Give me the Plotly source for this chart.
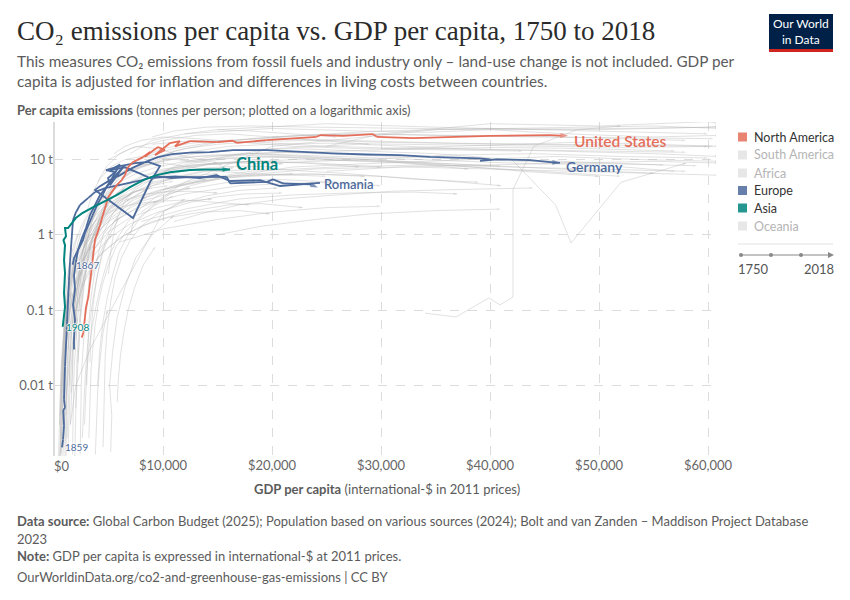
import plotly.graph_objects as go
import math

# ---------------- data (GDP per capita in int-$, CO2 per capita in t) ----------------
us_gdp = [2540, 2690, 2840, 2940, 3150, 3300, 3370, 3550, 3610, 3760, 4220, 4380, 4680, 4980, 5290, 5750,
          6210, 6510, 6730, 7130, 7590, 8170, 8810, 8350, 9540, 10180, 9270, 10640, 11560, 11100, 12480,
          14010, 14930, 16420, 16760, 19510, 24100, 24400, 26510, 29270, 29610, 32940, 36030, 40000, 45500, 47160]
us_co2 = [0.043, 0.050, 0.081, 0.110, 0.149, 0.229, 0.311, 0.463, 0.628, 0.853, 1.35, 1.67, 2.27, 3.18, 3.70, 4.58,
          5.34, 6.22, 7.71, 8.99, 9.85, 10.8, 12.6, 11.0, 14.7, 13.4, 11.5, 16.6, 17.6, 15.0, 17.6,
          17.1, 17.1, 17.8, 16.7, 18.2, 20.1, 21.1, 20.7, 21.8, 20.1, 19.3, 20.1, 20.7, 21.1, 20.7]

china_gdp = [800, 1010, 920, 1010, 920, 1010, 870, 1100, 1010, 1290, 2000, 2600, 3600, 4520, 5750, 6970,
             8190, 9420, 10640, 12480, 14010, 16150]
china_co2 = [0.060, 0.110, 0.169, 0.311, 0.46, 0.73, 0.85, 0.96, 1.23, 1.23, 1.67, 1.95, 2.34, 2.73, 3.38, 4.3,
             5.34, 6.22, 6.8, 7.25, 7.4, 7.37]

germany_gdp = [1716, 1835, 2110, 2385, 2660, 2845, 3120, 3486, 3945, 4404, 4862, 5413, 5871, 6422, 5871, 5137,
               4954, 5596, 4770, 6055, 7431, 8624, 9725, 8807, 7247, 3761, 4220, 5137, 6055, 7156, 8348, 9541,
               10825, 12477, 14312, 16422, 19541, 22568, 25595, 28714, 31742, 34494, 39081, 39998, 39081,
               40641, 43668, 45778, 46420]
germany_co2 = [0.40, 0.49, 0.59, 0.71, 0.85, 1.06, 1.31, 1.78, 2.49, 3.27, 4.44, 5.7, 6.8, 8.2, 6.4, 4.58,
               5.7, 6.8, 7.25, 8.2, 9.0, 9.3, 8.2, 5.0, 1.67, 3.94, 4.44, 5.34, 6.22, 7.71, 9.26, 10.8,
               11.8, 12.4, 12.6, 13.4, 13.4, 12.7, 12.1, 11.7, 11.5, 10.9, 10.4, 10.06, 9.64,
               10.06, 9.85, 9.18, 9.07]

romania_gdp = [734, 826, 917, 853, 1009, 917, 1009, 1101, 1165, 1220, 1284, 1376, 1468, 1560, 1651, 1743,
               2018, 2385, 3119, 3761, 4679, 5871, 6972, 8073, 9266, 10642, 12477, 14312, 15843, 16146,
               19541, 20092, 21009, 23486, 24220]
romania_co2 = [0.0015, 0.0019, 0.0029, 0.0047, 0.0050, 0.0064, 0.0178, 0.040, 0.067, 0.11, 0.16, 0.25, 0.44,
               0.73, 1.09, 1.57, 2.0, 2.49, 3.08, 3.70, 4.18, 4.58, 4.88, 5.34, 6.03, 5.7, 5.86, 5.86, 5.91,
               4.83, 5.07, 5.46, 4.83, 4.68, 4.25]

europe3_gdp = [1835, 1835, 1927, 1743, 1927, 1835, 2018, 2202, 2569, 2936, 3303, 3761, 4220, 4954, 5596,
               6055, 5137, 6514, 7800, 8807, 11101, 13394, 14927, 16146, 18898, 20733, 24400]
europe3_co2 = [0.030, 0.040, 0.075, 0.118, 0.186, 0.29, 0.44, 0.63, 0.91, 1.23, 1.83, 2.49, 3.38, 4.6, 6.5,
               8.6, 7.2, 7.9, 6.6, 5.7, 6.0, 5.7, 6.2, 5.2, 5.34, 4.46, 4.9]

# other countries (grey background)
oth01_gdp = [700, 750, 820, 900, 1000, 1150, 1300, 1500, 1800, 2200, 2700]
oth01_co2 = [0.0012, 0.003, 0.008, 0.02, 0.04, 0.07, 0.12, 0.2, 0.35, 0.6, 0.9]
oth02_gdp = [900, 950, 1000, 1100, 1250, 1400, 1700, 2100, 2600, 3200, 4000, 5200, 6500]
oth02_co2 = [0.0015, 0.004, 0.01, 0.025, 0.05, 0.09, 0.15, 0.3, 0.6, 1.0, 1.8, 3.0, 4.2]
oth03_gdp = [1200, 1300, 1350, 1500, 1700, 2000, 2400, 3000, 3800, 4800, 6000, 7500, 9000, 11000]
oth03_co2 = [0.002, 0.005, 0.012, 0.03, 0.07, 0.15, 0.3, 0.6, 1.1, 1.8, 2.8, 3.8, 4.5, 5.2]
oth04_gdp = [500, 600, 650, 700, 800, 950, 1100, 1300, 1600, 2000, 2500, 3000]
oth04_co2 = [0.001, 0.002, 0.005, 0.012, 0.03, 0.06, 0.1, 0.17, 0.25, 0.4, 0.6, 0.8]
oth05_gdp = [1500, 1600, 1700, 1800, 2000, 2300, 2700, 3300, 4200, 5500, 7000, 9000, 12000, 15000]
oth05_co2 = [0.003, 0.006, 0.015, 0.04, 0.1, 0.2, 0.4, 0.8, 1.5, 2.5, 3.5, 4.8, 6.0, 6.5]
oth06_gdp = [2000, 2100, 2200, 2400, 2700, 3100, 3600, 4300, 5200, 6500, 8000, 10000, 13000, 17000, 21000]
oth06_co2 = [0.005, 0.01, 0.03, 0.08, 0.2, 0.5, 1.0, 1.8, 3.0, 4.5, 6.0, 7.5, 8.5, 9.0, 8.8]
oth07_gdp = [3000, 3100, 3200, 3400, 3700, 4100, 4600, 5300, 6200, 7500, 9000, 11000, 14000, 18000, 23000, 28000]
oth07_co2 = [0.01, 0.03, 0.07, 0.15, 0.3, 0.6, 1.1, 1.8, 2.8, 4.0, 5.5, 7.0, 8.5, 9.5, 9.0, 8.0]
oth08_gdp = [800, 850, 900, 1000, 1100, 1300, 1600, 2000, 2600, 3400, 4500, 6000, 8000, 10500]
oth08_co2 = [0.008, 0.015, 0.03, 0.06, 0.1, 0.18, 0.3, 0.5, 0.8, 1.3, 2.0, 3.0, 4.0, 4.5]
oth09_gdp = [1000, 1050, 1100, 1200, 1400, 1700, 2100, 2700, 3500, 4500, 5800, 7500, 9500]
oth09_co2 = [0.001, 0.003, 0.007, 0.02, 0.05, 0.1, 0.2, 0.4, 0.7, 1.1, 1.6, 2.2, 2.8]
oth10_gdp = [1800, 2000, 2300, 2600, 3000, 3500, 4200, 5000, 6000, 7500, 9500, 12000, 16000, 20000, 25000, 32000, 38000]
oth10_co2 = [0.05, 0.1, 0.2, 0.4, 0.8, 1.5, 2.5, 3.8, 5.0, 6.5, 8.0, 9.5, 10.5, 11.0, 10.0, 9.0, 7.5]
oth11_gdp = [2500, 2700, 3000, 3400, 3900, 4500, 5300, 6300, 7600, 9200, 11500, 14500, 18000, 23000, 29000, 36000, 43000, 50000]
oth11_co2 = [0.2, 0.4, 0.8, 1.4, 2.2, 3.2, 4.5, 6.0, 7.5, 9.0, 10.5, 11.5, 12.0, 11.0, 10.0, 8.5, 7.0, 6.0]
oth12_gdp = [3500, 3800, 4200, 4800, 5600, 6600, 8000, 10000, 13000, 17000, 22000, 28000, 35000, 42000, 50000, 56000]
oth12_co2 = [0.5, 1.0, 1.8, 3.0, 4.5, 6.0, 8.0, 10.0, 12.0, 13.5, 14.0, 13.0, 12.0, 10.0, 9.0, 8.5]
oth13_gdp = [4000, 4500, 5200, 6000, 7000, 8500, 10500, 13000, 16000, 20000, 25000, 31000, 38000, 45000, 53000, 60000]
oth13_co2 = [1.0, 2.0, 3.5, 5.0, 7.0, 9.0, 11.0, 13.0, 15.0, 16.0, 16.5, 16.0, 15.5, 15.0, 14.5, 15.0]
oth14_gdp = [5000, 6000, 7500, 9500, 12000, 15000, 19000, 24000, 30000, 36000, 42000, 48000]
oth14_co2 = [3.0, 5.0, 8.0, 11.0, 14.0, 16.0, 17.5, 18.0, 17.0, 16.5, 16.0, 15.5]
oth15_gdp = [6000, 8000, 11000, 15000, 20000, 27000, 35000, 44000, 52000, 58000]
oth15_co2 = [6.0, 9.0, 13.0, 17.0, 20.0, 22.0, 21.0, 20.5, 19.0, 18.0]
oth16_gdp = [25000, 30000, 40000, 50000, 60000, 61000]
oth16_co2 = [15, 22, 30, 28, 32, 30]
oth17_gdp = [8000, 12000, 20000, 35000, 55000, 61000]
oth17_co2 = [2, 5, 15, 25, 28, 26]
oth18_gdp = [34040, 36880, 39900, 40920, 42110, 42110, 44000, 48000, 52000]
oth18_co2 = [0.091, 0.081, 0.145, 0.117, 0.149, 4.0, 15, 25, 28]
oth19_gdp = [42000, 46020, 47430, 52020, 58000]
oth19_co2 = [10, 2.49, 0.78, 5.0, 9]
oth20_gdp = [1500, 2000, 3300, 8800, 10000, 12000]
oth20_co2 = [0.003, 0.01, 0.03, 0.93, 2, 3]
oth21_gdp = [2000, 3000, 4500, 6500, 9000, 12000, 16000, 19000, 22800]
oth21_co2 = [0.1, 0.3, 0.6, 1.0, 1.5, 2.0, 2.5, 2.6, 2.3]
oth22_gdp = [1500, 2500, 4000, 6000, 8000, 10500, 13500, 17000, 19800]
oth22_co2 = [0.05, 0.2, 0.5, 0.9, 1.3, 1.7, 2.0, 2.1, 1.9]
oth23_gdp = [10000, 15000, 22000, 30000, 38000, 45000, 52000]
oth23_co2 = [7, 9, 10, 9.5, 8, 7, 6]
oth24_gdp = [12000, 18000, 26000, 34000, 42000, 50000, 57000]
oth24_co2 = [9, 12, 11, 10, 9, 8.5, 7]
oth25_gdp = [14000, 20000, 28000, 37000, 46000, 55000, 61000]
oth25_co2 = [10, 14, 16, 14, 13, 12, 11]
oth26_gdp = [9000, 14000, 20000, 27000, 33000, 39000]
oth26_co2 = [5, 7, 7.5, 6.5, 5.5, 5]
oth27_gdp = [7000, 11000, 16000, 23000, 30000, 36000, 41000]
oth27_co2 = [3, 4.5, 6, 6.5, 6, 5.2, 4.5]
oth28_gdp = [5500, 8000, 12000, 17000, 24000, 30000]
oth28_co2 = [1.5, 2.5, 3.5, 4.5, 5.0, 4.5]
oth29_gdp = [3000, 5000, 8000, 12000, 16000, 20000, 26000]
oth29_co2 = [0.8, 1.5, 2.8, 4.0, 5.0, 5.5, 5.0]
oth30_gdp = [20000, 30000, 40000, 50000, 60000, 61000]
oth30_co2 = [20, 24, 26, 25, 27, 28]
oth31_gdp = [15000, 25000, 35000, 48000, 60000]
oth31_co2 = [25, 30, 27, 24, 22]
oth32_gdp = [600, 620, 650, 700, 760, 850, 950, 1100, 1300, 1550, 1850]
oth32_co2 = [0.001, 0.002, 0.004, 0.008, 0.015, 0.03, 0.05, 0.08, 0.13, 0.2, 0.3]
oth33_gdp = [1100, 1150, 1200, 1300, 1450, 1650, 1900, 2200, 2600, 3100, 3700, 4500, 5500, 7000]
oth33_co2 = [0.004, 0.008, 0.015, 0.03, 0.06, 0.1, 0.17, 0.28, 0.45, 0.7, 1.0, 1.5, 2.2, 3.0]
oth34_gdp = [1300, 1350, 1400, 1500, 1650, 1850, 2100, 2500, 3000, 3600, 4300, 5100, 6000]
oth34_co2 = [0.0015, 0.003, 0.006, 0.012, 0.025, 0.05, 0.1, 0.2, 0.35, 0.6, 0.9, 1.3, 1.7]
oth35_gdp = [2200, 2300, 2450, 2650, 2900, 3200, 3600, 4100, 4700, 5500, 6500, 7800, 9500, 12000, 15000, 19000, 24000, 30000]
oth35_co2 = [0.02, 0.04, 0.08, 0.15, 0.3, 0.55, 0.9, 1.4, 2.0, 2.8, 3.8, 5.0, 6.5, 8.0, 9.0, 9.5, 9.0, 8.0]
oth36_gdp = [2800, 2900, 3000, 3200, 3500, 3900, 4400, 5000, 5800, 6800, 8000, 9500, 11500, 14000]
oth36_co2 = [0.003, 0.007, 0.015, 0.03, 0.06, 0.12, 0.25, 0.5, 0.9, 1.5, 2.3, 3.3, 4.5, 5.5]
oth37_gdp = [4000, 4200, 4500, 4900, 5400, 6000, 6800, 7800, 9000, 10500, 12500, 15000, 18000, 22000]
oth37_co2 = [0.01, 0.03, 0.07, 0.15, 0.3, 0.6, 1.0, 1.6, 2.4, 3.4, 4.5, 5.5, 6.2, 6.5]
oth38_gdp = [400, 450, 500, 560, 620, 700, 800, 920, 1050, 1200]
oth38_co2 = [0.001, 0.002, 0.004, 0.007, 0.012, 0.02, 0.03, 0.05, 0.07, 0.1]
oth39_gdp = [1600, 1650, 1700, 1800, 1950, 2150, 2400, 2700, 3100, 3600, 4200, 5000]
oth39_co2 = [0.008, 0.015, 0.03, 0.06, 0.12, 0.22, 0.4, 0.65, 1.0, 1.4, 1.9, 2.5]
oth40_gdp = [700, 780, 880, 1000, 1150, 1350, 1600, 1900, 2300, 2800, 3500, 4300, 5300, 6500, 8000, 10000, 12500]
oth40_co2 = [0.002, 0.005, 0.01, 0.02, 0.04, 0.07, 0.12, 0.2, 0.32, 0.5, 0.8, 1.2, 1.7, 2.3, 3.0, 3.7, 4.2]
oth41_gdp = [900, 1000, 1200, 1500, 1900, 2400, 3000, 3700, 4500]
oth41_co2 = [0.02, 0.04, 0.08, 0.15, 0.3, 0.5, 0.8, 1.2, 1.6]
oth42_gdp = [1400, 1500, 1650, 1900, 2200, 2600, 3100, 3800, 4700, 5800, 7200]
oth42_co2 = [0.01, 0.03, 0.06, 0.12, 0.25, 0.45, 0.8, 1.3, 2.0, 2.8, 3.5]
oth43_gdp = [2600, 2700, 2850, 3050, 3300, 3600, 4000, 4500, 5100, 5900, 7000, 8500]
oth43_co2 = [0.002, 0.005, 0.012, 0.03, 0.07, 0.15, 0.3, 0.6, 1.0, 1.6, 2.4, 3.2]
oth44_gdp = [3300, 3400, 3600, 3900, 4300, 4800, 5500, 6400, 7500, 9000, 11000, 13500, 16500]
oth44_co2 = [0.02, 0.05, 0.12, 0.25, 0.5, 0.9, 1.5, 2.3, 3.3, 4.5, 5.8, 7.0, 7.8]
oth45_gdp = [1000, 1100, 1250, 1450, 1700, 2000, 2400, 2900, 3500, 4200, 5000]
oth45_co2 = [0.05, 0.1, 0.18, 0.3, 0.5, 0.8, 1.2, 1.7, 2.3, 2.9, 3.4]
oth46_gdp = [500, 550, 600, 680, 780, 900, 1050, 1250, 1500, 1800, 2200, 2700, 3300]
oth46_co2 = [0.003, 0.006, 0.012, 0.02, 0.035, 0.06, 0.1, 0.16, 0.25, 0.38, 0.55, 0.75, 1.0]
oth47_gdp = [1900, 1950, 2000, 2100, 2250, 2450, 2750, 3150, 3700, 4400, 5300, 6500, 8000, 10000, 12500, 15500, 19000]
oth47_co2 = [0.001, 0.003, 0.008, 0.02, 0.05, 0.12, 0.3, 0.6, 1.1, 1.9, 3.0, 4.3, 5.8, 7.2, 8.4, 9.2, 9.6]
oth48_gdp = [2300, 2400, 2600, 2900, 3300, 3800, 4500, 5400, 6600, 8200, 10200, 13000, 17000, 22000, 28000, 35000, 42000, 49000, 55000]
oth48_co2 = [0.1, 0.2, 0.45, 0.9, 1.6, 2.6, 3.8, 5.2, 6.8, 8.3, 9.8, 11.0, 11.5, 11.0, 10.2, 9.0, 8.0, 7.2, 6.6]
oth49_gdp = [4500, 5000, 5800, 6800, 8200, 10000, 12500, 15500, 19500, 24500, 30000, 37000, 45000, 54000, 60500]
oth49_co2 = [2, 3.5, 5.5, 8, 11, 14, 16.5, 18, 19, 18.5, 17.5, 16.5, 16, 15.5, 15]
oth50_gdp = [6500, 8500, 11000, 14000, 18000, 23000, 29000, 36000, 44000, 52000, 60500]
oth50_co2 = [8, 11, 14, 16.5, 19, 21, 22, 21, 20, 19.5, 19]
oth51_gdp = [5000, 7000, 10000, 13000, 16000, 20000, 24000, 29000]
oth51_co2 = [10, 14, 18, 21, 22, 20, 18, 16]
oth52_gdp = [7000, 9000, 12000, 15000, 18000, 22000, 26000]
oth52_co2 = [12, 18, 22, 25, 24, 22, 20]
oth53_gdp = [8000, 12000, 18000, 26000, 34000, 42000, 50000, 58000]
oth53_co2 = [3, 5, 7, 8, 8.5, 8, 7.5, 7]
oth54_gdp = [10000, 16000, 24000, 32000, 40000, 48000, 56000, 61000]
oth54_co2 = [4, 6, 7.5, 8, 7.5, 7, 6.5, 6.2]
oth55_gdp = [16000, 22000, 30000, 38000, 46000, 54000, 61000]
oth55_co2 = [6, 8, 9, 10, 11, 10, 9.5]
oth56_gdp = [18000, 26000, 34000, 42000, 50000, 58000]
oth56_co2 = [12, 13, 14, 13.5, 13, 12.5]
oth57_gdp = [3500, 5000, 7000, 9500, 12500, 15000, 17500, 21000]
oth57_co2 = [0.5, 0.9, 1.4, 2.0, 2.7, 3.2, 3.5, 3.6]
oth58_gdp = [4000, 5500, 7500, 10000, 13000, 16500, 20000, 24000, 28500]
oth58_co2 = [1.2, 2.0, 3.0, 4.0, 5.0, 5.8, 6.2, 6.4, 6.0]
oth59_gdp = [2500, 3500, 5000, 7000, 9500, 12000, 14500]
oth59_co2 = [0.3, 0.6, 1.1, 1.7, 2.3, 2.8, 3.0]
oth60_gdp = [1200, 1400, 1700, 2100, 2700, 3500, 4500, 5700, 7200, 9000]
oth60_co2 = [0.1, 0.2, 0.35, 0.6, 1.0, 1.6, 2.3, 3.0, 3.7, 4.2]
oth61_gdp = [600, 700, 850, 1050, 1300, 1600, 2000, 2500]
oth61_co2 = [0.004, 0.01, 0.02, 0.04, 0.08, 0.14, 0.22, 0.32]
oth62_gdp = [800, 900, 1050, 1250, 1500, 1800, 2200]
oth62_co2 = [0.001, 0.0025, 0.006, 0.012, 0.025, 0.045, 0.08]
oth63_gdp = [3800, 3900, 4000, 4200, 4500, 4900]
oth63_co2 = [0.0012, 0.003, 0.008, 0.02, 0.05, 0.1]
oth64_gdp = [5200, 5300, 5100, 5400, 5800, 6500, 7500, 9000, 11000]
oth64_co2 = [0.0013, 0.004, 0.01, 0.03, 0.08, 0.2, 0.5, 1.0, 1.8]
oth65_gdp = [12000, 20000, 28000, 34000, 40000, 47000, 55000, 61000]
oth65_co2 = [22, 26, 24, 23, 25, 22, 20, 21]
oth66_gdp = [9000, 13000, 19000, 25000, 33000, 41000, 49000, 57000]
oth66_co2 = [16, 18, 17, 15, 14, 14.5, 14, 13]
oth67_gdp = [6000, 10000, 15000, 20000, 25000, 30000]
oth67_co2 = [0.8, 1.2, 1.6, 2.0, 2.3, 2.4]
oth68_gdp = [8000, 12000, 17000, 22000, 27000, 33000, 37000]
oth68_co2 = [1.5, 2.2, 3.0, 3.4, 3.6, 3.7, 3.5]
oth69_gdp = [550, 580, 620, 680, 750, 850, 980, 1150, 1350, 1600]
oth69_co2 = [0.0011, 0.0025, 0.005, 0.01, 0.018, 0.03, 0.05, 0.08, 0.12, 0.17]
oth70_gdp = [650, 700, 760, 840, 950, 1100, 1300, 1550, 1850, 2250, 2750, 3400]
oth70_co2 = [0.0013, 0.003, 0.006, 0.012, 0.022, 0.04, 0.07, 0.12, 0.2, 0.32, 0.48, 0.7]
oth71_gdp = [1100, 1120, 1150, 1200, 1280, 1400, 1560, 1780, 2050, 2400, 2850, 3400, 4100]
oth71_co2 = [0.0011, 0.002, 0.004, 0.008, 0.016, 0.03, 0.055, 0.1, 0.18, 0.3, 0.5, 0.75, 1.05]
oth72_gdp = [1700, 1720, 1750, 1800, 1880, 2000, 2180, 2420, 2750, 3200, 3800, 4600, 5600, 6900, 8500]
oth72_co2 = [0.0012, 0.0025, 0.005, 0.01, 0.02, 0.04, 0.08, 0.15, 0.28, 0.5, 0.85, 1.4, 2.1, 3.0, 4.0]
oth73_gdp = [2400, 2420, 2450, 2500, 2580, 2700, 2880, 3120, 3450, 3900, 4500, 5300]
oth73_co2 = [0.0012, 0.0025, 0.005, 0.01, 0.02, 0.04, 0.08, 0.15, 0.27, 0.45, 0.7, 1.0]
oth74_gdp = [3200, 3250, 3300, 3400, 3550, 3750, 4050, 4450, 5000, 5700, 6600, 7800, 9300, 11000]
oth74_co2 = [0.002, 0.004, 0.008, 0.016, 0.03, 0.06, 0.12, 0.22, 0.4, 0.7, 1.1, 1.7, 2.5, 3.3]
oth75_gdp = [4500, 4550, 4600, 4700, 4900, 5200, 5600, 6200, 7000, 8000, 9500, 11500, 14000, 17000, 20500]
oth75_co2 = [0.0015, 0.004, 0.01, 0.025, 0.06, 0.13, 0.27, 0.5, 0.85, 1.3, 1.9, 2.6, 3.3, 3.9, 4.2]
oth76_gdp = [5800, 5900, 6100, 6400, 6800, 7400, 8200, 9300]
oth76_co2 = [0.006, 0.012, 0.025, 0.05, 0.1, 0.2, 0.4, 0.7]
oth77_gdp = [800, 820, 850, 900, 970, 1070, 1200, 1380, 1600, 1880, 2200]
oth77_co2 = [0.01, 0.02, 0.035, 0.06, 0.1, 0.16, 0.25, 0.38, 0.55, 0.78, 1.05]
oth78_gdp = [1300, 1350, 1420, 1520, 1660, 1850, 2100, 2430, 2850, 3400, 4100, 5000, 6100, 7500]
oth78_co2 = [0.03, 0.06, 0.1, 0.17, 0.28, 0.45, 0.7, 1.05, 1.5, 2.1, 2.8, 3.6, 4.5, 5.4]
oth79_gdp = [2000, 2050, 2120, 2220, 2360, 2550, 2800, 3150, 3600, 4200, 5000, 6000]
oth79_co2 = [0.04, 0.07, 0.12, 0.2, 0.33, 0.52, 0.8, 1.2, 1.7, 2.3, 3.0, 3.7]
oth80_gdp = [3000, 3100, 3250, 3450, 3700, 4050, 4500, 5100, 5900, 6900, 8200, 9800, 11800, 14200, 17000, 20000]
oth80_co2 = [0.1, 0.18, 0.3, 0.48, 0.75, 1.1, 1.6, 2.2, 3.0, 3.9, 4.9, 6.0, 7.0, 7.8, 8.2, 8.0]
oth81_gdp = [5000, 5200, 5500, 5900, 6500, 7300, 8400, 9800, 11500, 13500, 16000, 19000, 23000, 28000, 34000, 41000]
oth81_co2 = [0.3, 0.6, 1.1, 1.8, 2.8, 4.0, 5.4, 6.8, 8.2, 9.4, 10.3, 10.8, 10.5, 9.8, 9.0, 8.2]
oth82_gdp = [7000, 7500, 8200, 9200, 10500, 12200, 14500, 17500, 21000, 25000, 30000, 36000, 43000, 51000, 59000]
oth82_co2 = [1.0, 2.0, 3.5, 5.5, 7.5, 9.5, 11.0, 12.0, 12.5, 12.0, 11.2, 10.4, 9.5, 8.8, 8.3]
oth83_gdp = [5500, 6500, 8000, 10000, 13000, 17000, 22000, 28000, 35000, 43000]
oth83_co2 = [12, 15, 18, 20, 19, 17, 15, 14, 13.5, 13]
oth84_gdp = [9000, 11000, 14000, 18000, 24000, 32000, 42000, 52000, 61000]
oth84_co2 = [20, 24, 27, 28, 27, 26, 25, 26, 27]
oth85_gdp = [3000, 3500, 4200, 5200, 6500, 8000, 10000, 12500, 15500]
oth85_co2 = [2, 3.5, 5.5, 8, 10, 11, 10.5, 9.5, 8.5]
oth86_gdp = [4000, 4800, 6000, 7500, 9500, 12000, 15000]
oth86_co2 = [5, 8, 12, 15, 14, 11, 9]
oth87_gdp = [3500, 4000, 4600, 5400, 6500, 8000, 10000, 12500, 15000, 18000, 21500, 25000]
oth87_co2 = [1.5, 2.5, 3.8, 5.5, 7.2, 8.5, 9.0, 8.0, 7.0, 6.5, 6.2, 6.0]
oth88_gdp = [2000, 2400, 2900, 3500, 4300, 5300, 6500, 8000, 10000, 12500, 15000]
oth88_co2 = [0.3, 0.5, 0.8, 1.2, 1.7, 2.3, 2.9, 3.4, 3.7, 3.8, 3.6]
oth89_gdp = [1200, 1500, 1900, 2400, 3000, 3800, 4800, 6000, 7500, 9500, 12000, 15000, 18000]
oth89_co2 = [0.15, 0.3, 0.5, 0.8, 1.1, 1.5, 1.9, 2.3, 2.6, 2.8, 2.9, 2.7, 2.5]
oth90_gdp = [20000, 28000, 36000, 44000, 52000, 60000]
oth90_co2 = [9, 10, 11.5, 12, 11, 10.5]
oth91_gdp = [25000, 32000, 40000, 47000, 55000, 61000]
oth91_co2 = [7, 8, 8.5, 9, 9.5, 9]
oth92_gdp = [30000, 36000, 42000, 48000, 55000, 61000]
oth92_co2 = [14, 15, 16, 17, 16, 15]
oth93_gdp = [11000, 14000, 17000, 21000, 26000, 31000, 37000, 44000]
oth93_co2 = [1.5, 2.0, 2.5, 3.0, 3.4, 3.8, 4.0, 4.2]
oth94_gdp = [15000, 19000, 24000, 29000, 35000, 41000]
oth94_co2 = [1.0, 1.3, 1.6, 1.9, 2.1, 2.2]

others = [
    (oth01_gdp, oth01_co2), (oth02_gdp, oth02_co2), (oth03_gdp, oth03_co2), (oth04_gdp, oth04_co2),
    (oth05_gdp, oth05_co2), (oth06_gdp, oth06_co2), (oth07_gdp, oth07_co2), (oth08_gdp, oth08_co2),
    (oth09_gdp, oth09_co2), (oth10_gdp, oth10_co2), (oth11_gdp, oth11_co2), (oth12_gdp, oth12_co2),
    (oth13_gdp, oth13_co2), (oth14_gdp, oth14_co2), (oth15_gdp, oth15_co2), (oth16_gdp, oth16_co2),
    (oth17_gdp, oth17_co2), (oth18_gdp, oth18_co2), (oth19_gdp, oth19_co2), (oth20_gdp, oth20_co2),
    (oth21_gdp, oth21_co2), (oth22_gdp, oth22_co2), (oth23_gdp, oth23_co2), (oth24_gdp, oth24_co2),
    (oth25_gdp, oth25_co2), (oth26_gdp, oth26_co2), (oth27_gdp, oth27_co2), (oth28_gdp, oth28_co2),
    (oth29_gdp, oth29_co2), (oth30_gdp, oth30_co2), (oth31_gdp, oth31_co2), (oth32_gdp, oth32_co2),
    (oth33_gdp, oth33_co2), (oth34_gdp, oth34_co2), (oth35_gdp, oth35_co2), (oth36_gdp, oth36_co2),
    (oth37_gdp, oth37_co2), (oth38_gdp, oth38_co2), (oth39_gdp, oth39_co2), (oth40_gdp, oth40_co2),
    (oth41_gdp, oth41_co2), (oth42_gdp, oth42_co2), (oth43_gdp, oth43_co2), (oth44_gdp, oth44_co2),
    (oth45_gdp, oth45_co2), (oth46_gdp, oth46_co2), (oth47_gdp, oth47_co2), (oth48_gdp, oth48_co2),
    (oth49_gdp, oth49_co2), (oth50_gdp, oth50_co2), (oth51_gdp, oth51_co2), (oth52_gdp, oth52_co2),
    (oth53_gdp, oth53_co2), (oth54_gdp, oth54_co2), (oth55_gdp, oth55_co2), (oth56_gdp, oth56_co2),
    (oth57_gdp, oth57_co2), (oth58_gdp, oth58_co2), (oth59_gdp, oth59_co2), (oth60_gdp, oth60_co2),
    (oth61_gdp, oth61_co2), (oth62_gdp, oth62_co2), (oth63_gdp, oth63_co2), (oth64_gdp, oth64_co2),
    (oth65_gdp, oth65_co2), (oth66_gdp, oth66_co2), (oth67_gdp, oth67_co2), (oth68_gdp, oth68_co2),
    (oth69_gdp, oth69_co2), (oth70_gdp, oth70_co2), (oth71_gdp, oth71_co2), (oth72_gdp, oth72_co2),
    (oth73_gdp, oth73_co2), (oth74_gdp, oth74_co2), (oth75_gdp, oth75_co2), (oth76_gdp, oth76_co2),
    (oth77_gdp, oth77_co2), (oth78_gdp, oth78_co2), (oth79_gdp, oth79_co2), (oth80_gdp, oth80_co2),
    (oth81_gdp, oth81_co2), (oth82_gdp, oth82_co2), (oth83_gdp, oth83_co2), (oth84_gdp, oth84_co2),
    (oth85_gdp, oth85_co2), (oth86_gdp, oth86_co2), (oth87_gdp, oth87_co2), (oth88_gdp, oth88_co2),
    (oth89_gdp, oth89_co2), (oth90_gdp, oth90_co2), (oth91_gdp, oth91_co2), (oth92_gdp, oth92_co2),
    (oth93_gdp, oth93_co2), (oth94_gdp, oth94_co2),
]

x_ticks = [10000, 20000, 30000, 40000, 50000, 60000]
x_tick_labels = ["$10,000", "$20,000", "$30,000", "$40,000", "$50,000", "$60,000"]
y_ticks = [0.01, 0.1, 1, 10]
y_tick_labels = ["0.01 t", "0.1 t", "1 t", "10 t"]

legend_names = ["North America", "South America", "Africa", "Europe", "Asia", "Oceania"]
legend_active = [True, False, False, True, True, False]
years = ["1750", "2018"]

# ---------------- styling ----------------
W, H = 850, 600
L, R, T, B = 54, 716, 122, 456
FONT = "Lato"
C_NA = "#E56E5A"
C_EU = "#4C6A9C"
C_AS = "#00847E"


def PX(x):
    return (x - L) / (R - L)


def PY(y):
    return (B - y) / (B - T)


fig = go.Figure()


def add_line(gdp, co2, color, width, start_size, arrow_size, opacity=1.0):
    n = len(gdp)
    symbols = ["circle"] * (n - 1) + ["arrow"]
    sizes = [start_size] + [0] * (n - 2) + [arrow_size]
    fig.add_trace(go.Scatter(
        x=gdp, y=co2, mode="lines+markers", opacity=opacity,
        line=dict(color=color, width=width, shape="linear"),
        marker=dict(symbol=symbols, size=sizes, color=color, angleref="previous", line=dict(width=0)),
        hoverinfo="skip", showlegend=False))


for g, c in others:
    add_line(g, c, "rgba(180,180,180,0.5)", 0.8, 0, 4)

add_line(europe3_gdp, europe3_co2, C_EU, 1.8, 4, 0)
add_line(romania_gdp, romania_co2, C_EU, 1.8, 5, 8)
add_line(germany_gdp, germany_co2, C_EU, 1.8, 5, 8)
add_line(us_gdp, us_co2, C_NA, 1.8, 5, 8)
add_line(china_gdp, china_co2, C_AS, 2.0, 5, 8)

ann = []
shapes = []


def label_at(gdp, co2, text, color, size, xshift, yshift, weight=600):
    ann.append(dict(x=gdp, y=math.log10(co2), xref="x", yref="y", text=text, showarrow=False,
                    xanchor="left", yanchor="middle", xshift=xshift, yshift=yshift,
                    font=dict(family=FONT, size=size, color=color, weight=weight)))


label_at(us_gdp[-1], us_co2[-1], "United States", C_NA, 15.5, 4, -5)
label_at(china_gdp[-1], china_co2[-1], "China", C_AS, 16.5, 4, 6, 700)
label_at(germany_gdp[-1], germany_co2[-1], "Germany", C_EU, 14, 4, -4)
label_at(romania_gdp[-1], romania_co2[-1], "Romania", C_EU, 13, 4, 4)

halo = "1px 0px 1px white, -1px 0px 1px white, 0px 1px 1px white, 0px -1px 1px white"
for g, c, t, col in [(romania_gdp[0], romania_co2[0], "1859", C_EU),
                     (germany_gdp[0], germany_co2[0], "1867", C_EU),
                     (china_gdp[0], china_co2[0], "1908", C_AS)]:
    ann.append(dict(x=g, y=math.log10(c), xref="x", yref="y", text=t, showarrow=False,
                    xanchor="left", yanchor="middle", xshift=1, yshift=0,
                    font=dict(family=FONT, size=10, color=col, shadow=halo)))

# $0 label (shifted like the original)
ann.append(dict(x=PX(62), y=PY(466), xref="paper", yref="paper", text="$0", showarrow=False,
                xanchor="center", yanchor="middle", font=dict(family=FONT, size=13, color="#666")))

# Title, subtitle, axis titles
ann.append(dict(x=PX(15), y=PY(31), xref="paper", yref="paper", xanchor="left", yanchor="middle",
                text="CO₂ emissions per capita vs. GDP per capita, 1750 to 2018", showarrow=False,
                font=dict(family="Liberation Serif", size=27, color="#2b2b2b")))
ann.append(dict(x=PX(15), y=PY(70.5), xref="paper", yref="paper", xanchor="left", yanchor="middle", align="left",
                text="This measures CO₂ emissions from fossil fuels and industry only – land-use change is not included. GDP per<br>capita is adjusted for inflation and differences in living costs between countries.",
                showarrow=False, font=dict(family=FONT, size=15.3, color="#5b5b5b")))
ann.append(dict(x=PX(15), y=PY(110), xref="paper", yref="paper", xanchor="left", yanchor="middle",
                text="<b>Per capita emissions</b> (tonnes per person; plotted on a logarithmic axis)",
                showarrow=False, font=dict(family=FONT, size=12.9, color="#5b5b5b")))
ann.append(dict(x=PX(387), y=PY(489), xref="paper", yref="paper", xanchor="center", yanchor="middle",
                text="<b>GDP per capita</b> (international-$ in 2011 prices)",
                showarrow=False, font=dict(family=FONT, size=13, color="#5b5b5b")))

# footer
foot = [
    (521, "<b>Data source:</b> Global Carbon Budget (2025); Population based on various sources (2024); Bolt and van Zanden – Maddison Project Database"),
    (539, "2023"),
    (556, "<b>Note:</b> GDP per capita is expressed in international-$ at 2011 prices."),
    (577, "OurWorldinData.org/co2-and-greenhouse-gas-emissions | CC BY"),
]
for yy, tx in foot:
    ann.append(dict(x=PX(15), y=PY(yy), xref="paper", yref="paper", xanchor="left", yanchor="middle",
                    text=tx, showarrow=False, font=dict(family=FONT, size=13, color="#5b5b5b")))

# logo
shapes.append(dict(type="rect", xref="paper", yref="paper", x0=PX(769), x1=PX(833), y0=PY(52), y1=PY(14),
                   fillcolor="#002147", line=dict(width=0), layer="above"))
shapes.append(dict(type="rect", xref="paper", yref="paper", x0=PX(769), x1=PX(833), y0=PY(52), y1=PY(49),
                   fillcolor="#ce261e", line=dict(width=0), layer="above"))
ann.append(dict(x=PX(801), y=PY(31), xref="paper", yref="paper", xanchor="center", yanchor="middle",
                text="Our World<br>in Data", showarrow=False,
                font=dict(family=FONT, size=12, color="white"), align="center"))

# legend
leg_y = [137, 155, 173, 190.5, 208, 226]
leg_col = {"North America": C_NA, "Europe": C_EU, "Asia": C_AS}
for name, act, yy in zip(legend_names, legend_active, leg_y):
    col = leg_col.get(name, "#e3e3e3") if act else "#e3e3e3"
    shapes.append(dict(type="rect", xref="paper", yref="paper", x0=PX(738), x1=PX(747), y0=PY(yy + 4.5),
                       y1=PY(yy - 4.5), fillcolor=col, opacity=0.85, line=dict(width=0)))
    ann.append(dict(x=PX(752), y=PY(yy), xref="paper", yref="paper", xanchor="left", yanchor="middle",
                    text=name, showarrow=False,
                    font=dict(family=FONT, size=12.5, color="#333333" if act else "#b5b5b5")))
shapes.append(dict(type="line", xref="paper", yref="paper", x0=PX(738), x1=PX(833), y0=PY(244), y1=PY(244),
                   line=dict(color="#e2e2e2", width=1)))
shapes.append(dict(type="line", xref="paper", yref="paper", x0=PX(741), x1=PX(831), y0=PY(255), y1=PY(255),
                   line=dict(color="#888888", width=1)))
for xx in [741, 771, 801]:
    shapes.append(dict(type="circle", xref="paper", yref="paper", x0=PX(xx - 2), x1=PX(xx + 2),
                       y0=PY(257), y1=PY(253), fillcolor="#888888", line=dict(width=0)))
shapes.append(dict(type="path", xref="paper", yref="paper",
                   path=f"M {PX(828)} {PY(252)} L {PX(834)} {PY(255)} L {PX(828)} {PY(258)} Z",
                   fillcolor="#888888", line=dict(width=0)))
ann.append(dict(x=PX(753), y=PY(269), xref="paper", yref="paper", xanchor="center", yanchor="middle",
                text=years[0], showarrow=False, font=dict(family=FONT, size=13, color="#555")))
ann.append(dict(x=PX(819), y=PY(269), xref="paper", yref="paper", xanchor="center", yanchor="middle",
                text=years[1], showarrow=False, font=dict(family=FONT, size=13, color="#555")))

# y axis line
shapes.append(dict(type="line", xref="paper", yref="paper", x0=0, x1=0, y0=0, y1=1,
                   line=dict(color="#b8b8b8", width=1), layer="below"))

fig.update_layout(
    width=W, height=H, margin=dict(l=L, r=W - R, t=T, b=H - B),
    paper_bgcolor="white", plot_bgcolor="white",
    font=dict(family=FONT, color="#666"),
    xaxis=dict(range=[0, 60730], tickvals=x_ticks, ticktext=x_tick_labels, showgrid=True,
               gridcolor="#dcdcdc", griddash="dash", gridwidth=1, zeroline=False, showline=False,
               ticks="", tickfont=dict(family=FONT, size=13, color="#666")),
    yaxis=dict(type="log", range=[-2.94, 1.50], tickvals=y_ticks, ticktext=y_tick_labels, showgrid=True,
               gridcolor="#dcdcdc", griddash="dash", gridwidth=1, zeroline=False, showline=False,
               ticks="", tickfont=dict(family=FONT, size=13, color="#666")),
    annotations=ann, shapes=shapes, showlegend=False,
)

fig.write_html("out.html")
